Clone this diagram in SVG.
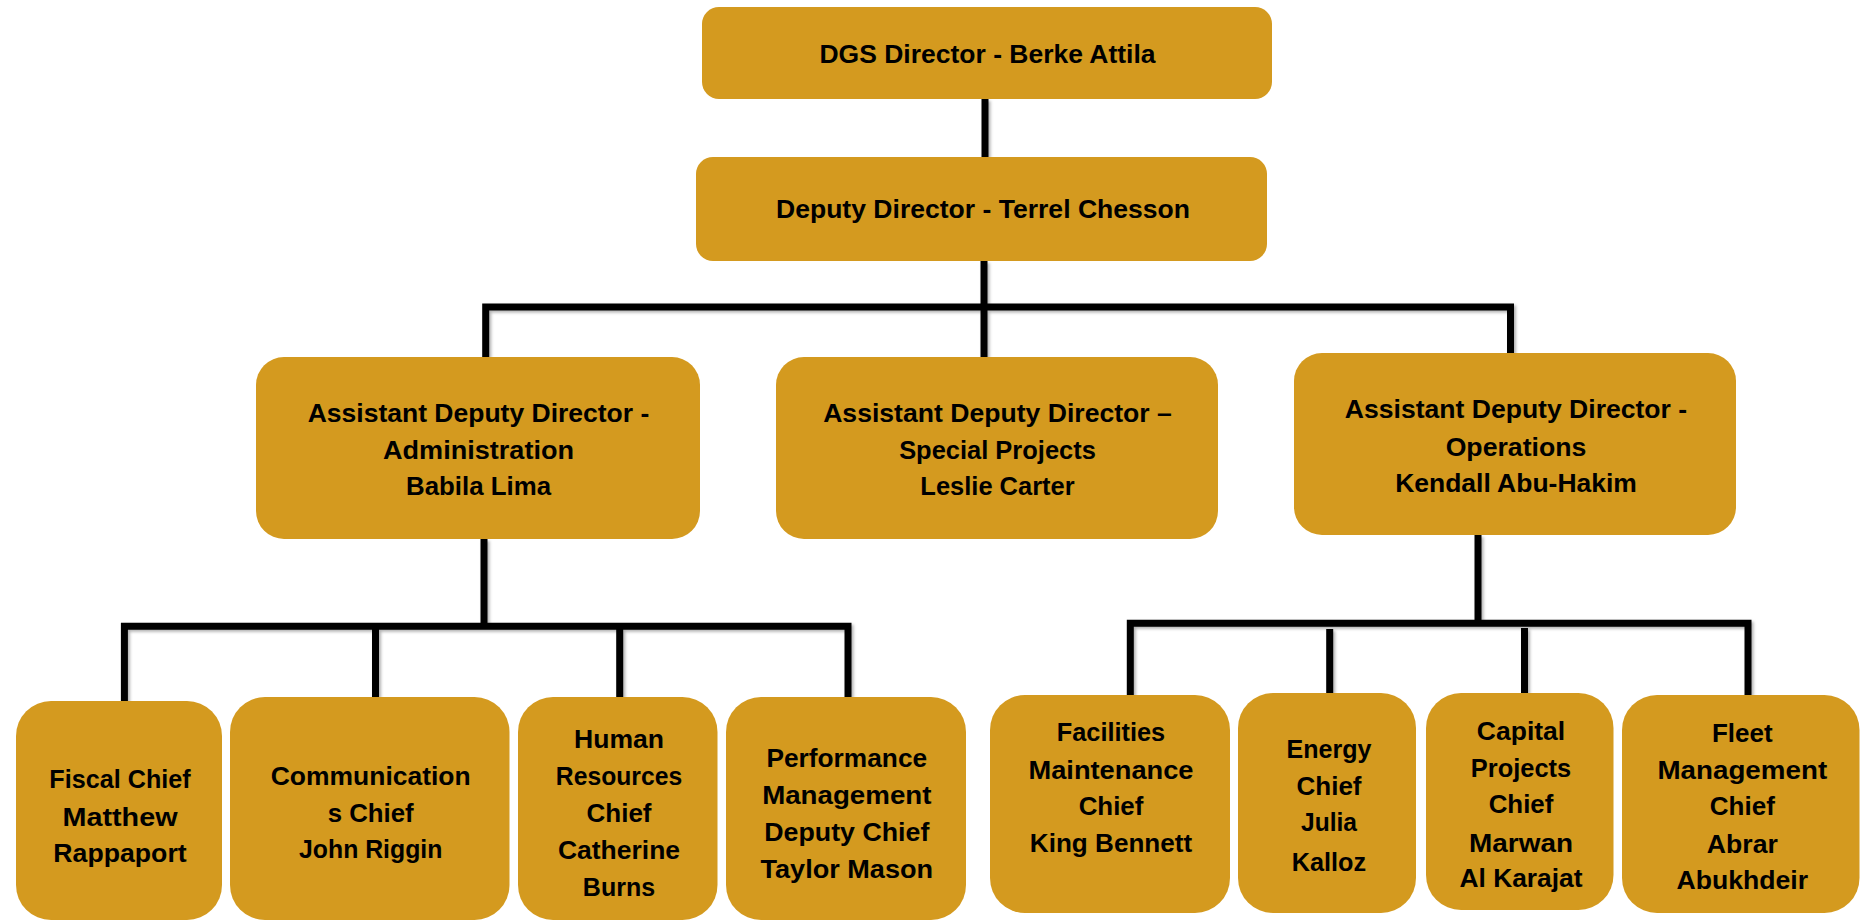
<svg xmlns="http://www.w3.org/2000/svg" width="1862" height="921" viewBox="0 0 1862 921">
<defs>
<style>
.box{fill:#D49A1F;}
.t{font-family:"Liberation Sans",Arial,sans-serif;font-weight:bold;font-size:26px;fill:#000;text-anchor:middle;}
.ln{fill:none;stroke:#000;stroke-width:7;stroke-linejoin:miter;stroke-linecap:butt;}
</style>
<filter id="sh" x="-5%" y="-5%" width="110%" height="110%">
<feDropShadow dx="2" dy="2" stdDeviation="1.5" flood-color="#000" flood-opacity="0.3"/>
</filter>
</defs>
<rect width="1862" height="921" fill="#fff"/>

<g id="connectors" filter="url(#sh)">
<path class="ln" d="M985,99 V157"/>
<path class="ln" d="M984,261 V357"/>
<path class="ln" d="M485.7,357 V307 H1510.5 V353"/>
<path class="ln" d="M484,539 V626"/>
<path class="ln" d="M124.4,701 V626.3 H848 V697"/>
<path class="ln" d="M375.5,626 V697"/>
<path class="ln" d="M619.7,626 V697"/>
<path class="ln" d="M1478,535 V623"/>
<path class="ln" d="M1130.3,695 V623.3 H1748 V695"/>
<path class="ln" d="M1329.7,629 V693"/>
<path class="ln" d="M1524.5,628 V693"/>
</g>

<g id="dgs-director">
<rect class="box" x="702" y="7" width="570" height="92" rx="17"/>
<text class="t" x="987.5" y="62.7" textLength="336" lengthAdjust="spacingAndGlyphs">DGS Director - Berke Attila</text>
</g>

<g id="deputy-director">
<rect class="box" x="696" y="157" width="571" height="104" rx="17"/>
<text class="t" x="983" y="218.3" textLength="414" lengthAdjust="spacingAndGlyphs">Deputy Director - Terrel Chesson</text>
</g>

<g id="add-administration">
<rect class="box" x="256" y="357" width="444" height="182" rx="28"/>
<text class="t" x="478.5" y="421.7" textLength="341.6" lengthAdjust="spacingAndGlyphs">Assistant Deputy Director -</text>
<text class="t" x="478.5" y="459.3" textLength="191" lengthAdjust="spacingAndGlyphs">Administration</text>
<text class="t" x="478.5" y="495.3" textLength="145" lengthAdjust="spacingAndGlyphs">Babila Lima</text>
</g>

<g id="add-special-projects">
<rect class="box" x="776" y="357" width="442" height="182" rx="28"/>
<text class="t" x="997.5" y="421.7" textLength="348.7" lengthAdjust="spacingAndGlyphs">Assistant Deputy Director –</text>
<text class="t" x="997.5" y="459" textLength="196.7" lengthAdjust="spacingAndGlyphs">Special Projects</text>
<text class="t" x="997.5" y="495" textLength="154.3" lengthAdjust="spacingAndGlyphs">Leslie Carter</text>
</g>

<g id="add-operations">
<rect class="box" x="1294" y="353" width="442" height="182" rx="28"/>
<text class="t" x="1516" y="417.7" textLength="342.3" lengthAdjust="spacingAndGlyphs">Assistant Deputy Director -</text>
<text class="t" x="1516" y="455.7" textLength="140.7" lengthAdjust="spacingAndGlyphs">Operations</text>
<text class="t" x="1516" y="491.7" textLength="241.7" lengthAdjust="spacingAndGlyphs">Kendall Abu-Hakim</text>
</g>

<g id="fiscal-chief">
<rect class="box" x="16" y="701" width="206" height="219" rx="35"/>
<text class="t" x="120" y="788.3" textLength="141.3" lengthAdjust="spacingAndGlyphs">Fiscal Chief</text>
<text class="t" x="120" y="826" textLength="115" lengthAdjust="spacingAndGlyphs">Matthew</text>
<text class="t" x="120" y="861.7" textLength="133.3" lengthAdjust="spacingAndGlyphs">Rappaport</text>
</g>

<g id="communications-chief">
<rect class="box" x="230" y="697" width="279.5" height="223" rx="35"/>
<text class="t" x="370.7" y="785" textLength="200" lengthAdjust="spacingAndGlyphs">Communication</text>
<text class="t" x="370.7" y="821.7" textLength="86" lengthAdjust="spacingAndGlyphs">s Chief</text>
<text class="t" x="370.7" y="858.3" textLength="143.3" lengthAdjust="spacingAndGlyphs">John Riggin</text>
</g>

<g id="hr-chief">
<rect class="box" x="518" y="697" width="199.5" height="223" rx="35"/>
<text class="t" x="619" y="747.7" textLength="90" lengthAdjust="spacingAndGlyphs">Human</text>
<text class="t" x="619" y="785" textLength="126.3" lengthAdjust="spacingAndGlyphs">Resources</text>
<text class="t" x="619" y="821.7" textLength="65" lengthAdjust="spacingAndGlyphs">Chief</text>
<text class="t" x="619" y="859.3" textLength="122" lengthAdjust="spacingAndGlyphs">Catherine</text>
<text class="t" x="619" y="895.7" textLength="72.3" lengthAdjust="spacingAndGlyphs">Burns</text>
</g>

<g id="performance-management">
<rect class="box" x="726" y="697" width="240" height="223" rx="35"/>
<text class="t" x="846.8" y="766.7" textLength="160.7" lengthAdjust="spacingAndGlyphs">Performance</text>
<text class="t" x="846.8" y="804" textLength="169.3" lengthAdjust="spacingAndGlyphs">Management</text>
<text class="t" x="846.8" y="840.7" textLength="165" lengthAdjust="spacingAndGlyphs">Deputy Chief</text>
<text class="t" x="846.8" y="878.3" textLength="172.7" lengthAdjust="spacingAndGlyphs">Taylor Mason</text>
</g>

<g id="facilities-maintenance">
<rect class="box" x="990" y="695" width="240" height="218" rx="35"/>
<text class="t" x="1111" y="741" textLength="108.3" lengthAdjust="spacingAndGlyphs">Facilities</text>
<text class="t" x="1111" y="779" textLength="165" lengthAdjust="spacingAndGlyphs">Maintenance</text>
<text class="t" x="1111" y="815" textLength="64.7" lengthAdjust="spacingAndGlyphs">Chief</text>
<text class="t" x="1111" y="852.3" textLength="162.3" lengthAdjust="spacingAndGlyphs">King Bennett</text>
</g>

<g id="energy-chief">
<rect class="box" x="1238" y="693" width="178" height="220" rx="35"/>
<text class="t" x="1329" y="757.7" textLength="85" lengthAdjust="spacingAndGlyphs">Energy</text>
<text class="t" x="1329" y="795" textLength="65" lengthAdjust="spacingAndGlyphs">Chief</text>
<text class="t" x="1329" y="831" textLength="56" lengthAdjust="spacingAndGlyphs">Julia</text>
<text class="t" x="1329" y="870.7" textLength="74.3" lengthAdjust="spacingAndGlyphs">Kalloz</text>
</g>

<g id="capital-projects">
<rect class="box" x="1426" y="693" width="187.5" height="217" rx="35"/>
<text class="t" x="1521" y="740" textLength="88.3" lengthAdjust="spacingAndGlyphs">Capital</text>
<text class="t" x="1521" y="776.7" textLength="100.3" lengthAdjust="spacingAndGlyphs">Projects</text>
<text class="t" x="1521" y="813.3" textLength="64.7" lengthAdjust="spacingAndGlyphs">Chief</text>
<text class="t" x="1521" y="851.7" textLength="104" lengthAdjust="spacingAndGlyphs">Marwan</text>
<text class="t" x="1521" y="887.3" textLength="123" lengthAdjust="spacingAndGlyphs">Al Karajat</text>
</g>

<g id="fleet-management">
<rect class="box" x="1622" y="695" width="237.5" height="218" rx="35"/>
<text class="t" x="1742.3" y="741.7" textLength="60.7" lengthAdjust="spacingAndGlyphs">Fleet</text>
<text class="t" x="1742.3" y="779" textLength="169.7" lengthAdjust="spacingAndGlyphs">Management</text>
<text class="t" x="1742.3" y="815" textLength="65" lengthAdjust="spacingAndGlyphs">Chief</text>
<text class="t" x="1742.3" y="853.3" textLength="71" lengthAdjust="spacingAndGlyphs">Abrar</text>
<text class="t" x="1742.3" y="889.3" textLength="131.7" lengthAdjust="spacingAndGlyphs">Abukhdeir</text>
</g>
</svg>
